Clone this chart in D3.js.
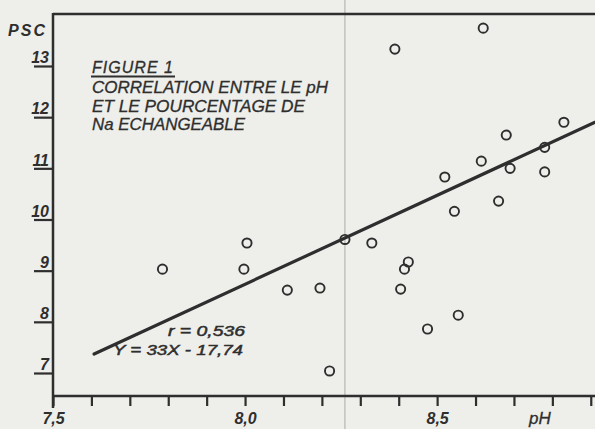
<!DOCTYPE html>
<html><head><meta charset="utf-8">
<script src="https://cdn.jsdelivr.net/npm/d3@7"></script>
<style>
html,body{margin:0;padding:0;background:#eeeeeb;}
svg{display:block;}
text{font-family:"Liberation Sans",Arial,sans-serif;font-style:italic;fill:#2e2e2e;}
</style></head>
<body><svg id="c" width="595" height="429"></svg>
<script>
// data (pH, PSC)
const pH  = [8.62, 8.39, 8.83, 8.68, 8.78, 8.615, 8.69, 8.78, 8.52, 8.66, 8.545, 8.26, 8.33, 8.005, 8.425, 8.415, 7.785, 7.997, 8.195, 8.405, 8.11, 8.555, 8.475, 8.22];
const psc = [13.74, 13.33, 11.90, 11.65, 11.41, 11.14, 11.00, 10.93, 10.83, 10.36, 10.16, 9.61, 9.54, 9.54, 9.17, 9.03, 9.03, 9.03, 8.66, 8.64, 8.62, 8.13, 7.86, 7.04];
// regression line as drawn (end points)
const lineX = [7.607, 8.911];
const lineY = [7.37, 11.90];
const xTicks = [7.5, 7.6, 7.7, 7.8, 7.9, 8.0, 8.1, 8.2, 8.3, 8.4, 8.5, 8.6, 8.7, 8.8, 8.9];
const xLabels = {"7.5":"7,5", "8.0":"8,0", "8.5":"8,5"};
const yTicks = [7, 8, 9, 10, 11, 12, 13];
const titleLines = ["CORRELATION ENTRE LE pH", "ET LE POURCENTAGE DE", "Na ECHANGEABLE"];
const statLines = ["r = 0,536", "Y = 33X - 17,74"];

const svg = d3.select("#c");
const ink = "#2e2e2e";
const x = d3.scaleLinear().domain([7.5, 8.911]).range([53, 595]);
const y = d3.scaleLinear().domain([7, 13]).range([373, 66]);
const yTop = y.invert(14), yBot = y.invert(396);

// paper fold
svg.append("line").attr("x1", x(8.26)).attr("x2", x(8.26)).attr("y1", 0).attr("y2", 429)
  .attr("stroke", "#ababa9").attr("stroke-width", 1);

// top border
svg.append("line").attr("x1", x(7.5)).attr("x2", 595).attr("y1", y(yTop)).attr("y2", y(yTop))
  .attr("stroke", ink).attr("stroke-width", 2.5);

// y axis
const ya = svg.append("g").attr("transform", `translate(${x(7.5)},0)`)
  .call(d3.axisLeft(y).tickValues(yTicks).tickSize(19).tickFormat(d3.format("d")));
ya.select(".domain").remove();
ya.append("line").attr("x1", 0).attr("x2", 0).attr("y1", y(yTop) - 1).attr("y2", 408)
  .attr("stroke", ink).attr("stroke-width", 2.5);
ya.selectAll(".tick line").attr("stroke", ink).attr("stroke-width", 2.2);
ya.selectAll(".tick text").attr("x", -4).attr("dy", "-0.2em").attr("fill", ink)
  .attr("font-size", 16).attr("font-weight", "bold").attr("font-family", "Liberation Sans");

// x axis
const xa = svg.append("g").attr("transform", `translate(0,${y(yBot)})`)
  .call(d3.axisBottom(x).tickValues(xTicks).tickSize(10).tickFormat(d => xLabels[d.toFixed(1)] || ""));
xa.select(".domain").remove();
xa.append("line").attr("x1", x(7.5)).attr("x2", 595).attr("y1", 0).attr("y2", 0)
  .attr("stroke", ink).attr("stroke-width", 2.5);
xa.selectAll(".tick line").attr("stroke", ink).attr("stroke-width", 2.2);
xa.selectAll(".tick text").attr("y", 28).attr("dy", 0).attr("fill", ink)
  .attr("font-size", 16).attr("font-weight", "bold").attr("font-family", "Liberation Sans");

// axis titles
svg.append("text").attr("x", 8).attr("y", 36).text("PSC")
  .attr("font-size", 16).attr("font-weight", "bold").attr("textLength", 37);
svg.append("text").attr("x", 529).attr("y", 424).text("pH")
  .attr("font-size", 17).attr("stroke", ink).attr("stroke-width", 0.3);

// title block
svg.append("text").attr("x", 92).attr("y", 73).text("FIGURE 1")
  .attr("font-size", 16).attr("textLength", 81).attr("stroke", ink).attr("stroke-width", 0.3);
svg.append("line").attr("x1", 91).attr("x2", 175).attr("y1", 76.5).attr("y2", 76.5)
  .attr("stroke", ink).attr("stroke-width", 1.8);
const tlen = [236, 213, 153];
titleLines.forEach((t, i) => {
  svg.append("text").attr("x", 92).attr("y", 93 + i * 18.5).text(t)
    .attr("font-size", 16.5).attr("textLength", tlen[i]).attr("lengthAdjust", "spacingAndGlyphs")
    .attr("stroke", ink).attr("stroke-width", 0.3);
});

// regression line
svg.append("line").attr("x1", x(lineX[0])).attr("y1", y(lineY[0]))
  .attr("x2", x(lineX[1])).attr("y2", y(lineY[1]))
  .attr("stroke", ink).attr("stroke-width", 3.2).attr("stroke-linecap", "round");

// stats
const sx = [168, 113], sy = [336, 355], sl = [77, 130];
statLines.forEach((t, i) => {
  svg.append("text").attr("x", sx[i]).attr("y", sy[i]).text(t)
    .attr("font-size", 15.5).attr("stroke", ink).attr("stroke-width", 0.5)
    .attr("textLength", sl[i]).attr("lengthAdjust", "spacingAndGlyphs");
});

// points
svg.append("g").selectAll("circle").data(pH.map((d, i) => [d, psc[i]])).join("circle")
  .attr("cx", d => x(d[0])).attr("cy", d => y(d[1])).attr("r", 4.6)
  .attr("fill", "none").attr("stroke", ink).attr("stroke-width", 1.9);
</script></body></html>
